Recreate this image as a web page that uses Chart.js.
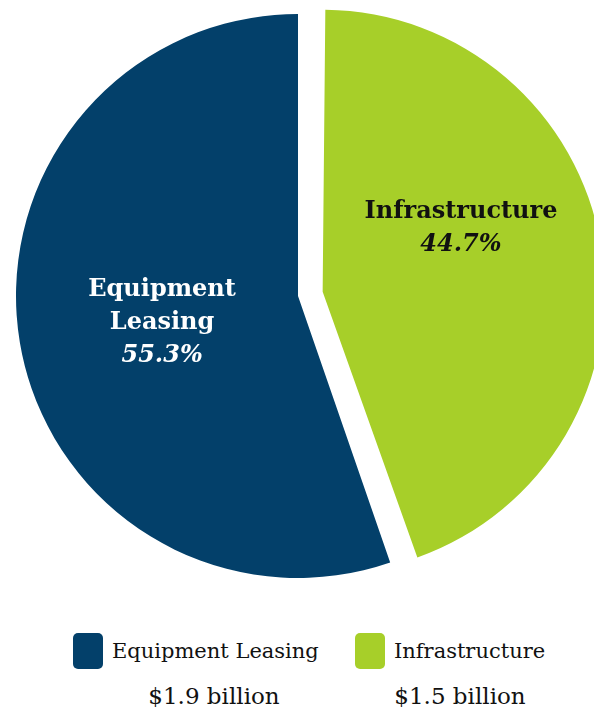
<!DOCTYPE html>
<html>
<head>
<meta charset="utf-8">
<script src="https://cdn.jsdelivr.net/npm/chart.js@4/dist/chart.umd.min.js"></script>
<style>
  html, body { margin: 0; padding: 0; background: #fff; overflow: hidden; }
  #wrap { position: relative; width: 594px; height: 710px; overflow: hidden; font-family: "DejaVu Serif", serif; }
  #pie { position: absolute; left: -34px; top: -36px; }
  .legend-item { position: absolute; top: 633px; height: 36px; display: flex; align-items: center; font-size: 21px; color: #111; white-space: nowrap; }
  .legend-box { width: 30px; height: 36px; border-radius: 5px; margin-right: 9px; }
  .amount { position: absolute; top: 683px; font-size: 23px; color: #111; transform: translateX(-50%); white-space: nowrap; }
</style>
</head>
<body>
<div id="wrap">
  <canvas id="pie" width="664" height="664"></canvas>
</div>
<script>
// data
const categories = ['Equipment Leasing', 'Infrastructure'];
const shares = [55.3, 44.7];
const amounts = ['$1.9 billion', '$1.5 billion'];
const sliceLabels = [['Equipment', 'Leasing'], ['Infrastructure']];

const colors = ['#03406A', '#A7CF29'];
const textColors = ['#ffffff', '#111111'];
const sliceOffsets = [0, 100]; // chart.js moves an arc by a quarter of this
// label centre relative to pie centre, as a fraction of the radius
const labelSpots = [[-0.482, 0.096], [0.578, -0.241]];
const legendLeft = [73, 355];
const amountCentre = [214, 460];

// chart.js also grows an offset arc a bit when drawing it, undo that so both slices keep one radius
const keepRadiusPlugin = {
  id: 'keepRadius',
  afterDatasetUpdate(chart, args) {
    const R = args.meta.controller.outerRadius;
    args.meta.data.forEach((arc, i) => {
      const fix = 1 - Math.sin(Math.min(Math.PI, arc.circumference || 0));
      arc.outerRadius = R - (sliceOffsets[i] / 4) * fix;
    });
  }
};

// draws the text inside each slice
const sliceTextPlugin = {
  id: 'sliceText',
  afterDatasetsDraw(chart) {
    const ctx = chart.ctx;
    const meta = chart.getDatasetMeta(0);
    const r = meta.controller.outerRadius;
    ctx.save();
    ctx.textAlign = 'center';
    ctx.textBaseline = 'middle';
    meta.data.forEach((arc, i) => {
      const cx = arc.x + labelSpots[i][0] * r;
      const cy = arc.y + labelSpots[i][1] * r;
      const lines = sliceLabels[i].map(t => ({ text: t, font: 'bold 24px "DejaVu Serif"' }));
      lines.push({ text: shares[i].toFixed(1) + '%', font: 'italic bold 24px "DejaVu Serif"' });
      const lh = 33;
      const top = cy - (lines.length - 1) * lh / 2;
      ctx.fillStyle = textColors[i];
      lines.forEach((l, j) => {
        ctx.font = l.font;
        ctx.fillText(l.text, cx, top + j * lh);
      });
    });
    ctx.restore();
  }
};

const pieChart = new Chart(document.getElementById('pie'), {
  type: 'pie',
  data: {
    labels: categories,
    datasets: [{
      data: shares,
      backgroundColor: colors,
      borderWidth: 0,
      offset: sliceOffsets,
      hoverOffset: 0,
      clip: false
    }]
  },
  options: {
    responsive: false,
    animation: false,
    rotation: 360 * shares[1] / 100,
    layout: { padding: 0 },
    plugins: {
      legend: { display: false },
      tooltip: { enabled: false }
    }
  },
  plugins: [keepRadiusPlugin, sliceTextPlugin]
});

// legend with amounts under the pie
const wrap = document.getElementById('wrap');
categories.forEach((name, i) => {
  const item = document.createElement('div');
  item.className = 'legend-item';
  item.style.left = legendLeft[i] + 'px';
  item.innerHTML = `<span class="legend-box" style="background:${colors[i]}"></span><span>${name}</span>`;
  wrap.appendChild(item);

  const amt = document.createElement('div');
  amt.className = 'amount';
  amt.style.left = amountCentre[i] + 'px';
  amt.textContent = amounts[i];
  wrap.appendChild(amt);
});
</script>
</body>
</html>
